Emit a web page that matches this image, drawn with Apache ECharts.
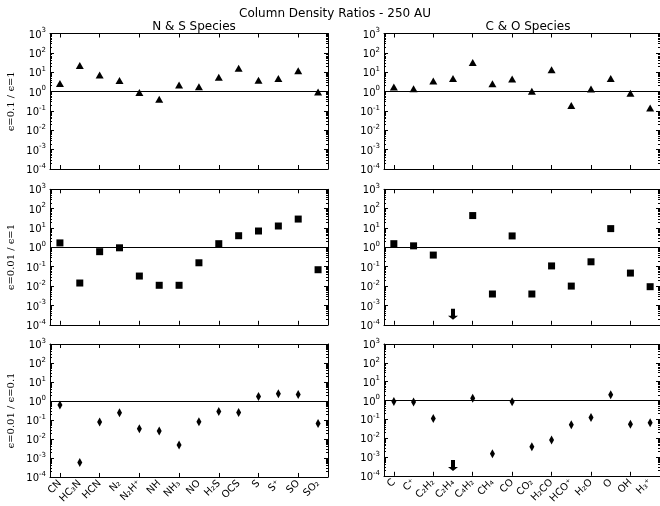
<!DOCTYPE html>
<html><head><meta charset="utf-8">
<script src="https://cdn.jsdelivr.net/npm/echarts@6/dist/echarts.min.js"></script>
<style>html,body{margin:0;padding:0;background:#fff}#c{width:660px;height:506px}</style>
</head><body><div id="c"></div>
<script>
const nsSpecies = ['CN','HC₃N','HCN','N₂','N₂H⁺','NH','NH₃','NO','H₂S','OCS','S','S⁺','SO','SO₂'];
const coSpecies = ['C','C⁺','C₂H₂','C₂H₄','C₄H₂','CH₄','CO','CO₂','H₂CO','HCO⁺','H₂O','O','OH','H₃⁺'];

const nsRatio01_1   = [2.6, 22, 7.1, 3.7, 0.89, 0.40, 2.2, 1.8, 5.5, 16, 3.8, 4.8, 12, 0.95];
const nsRatio001_1  = [1.7, 0.0144, 0.6, 0.95, 0.033, 0.011, 0.011, 0.16, 1.55, 4.0, 7.0, 12.7, 29, 0.07];
const nsRatio001_01 = [0.62, 0.00057, 0.078, 0.24, 0.035, 0.026, 0.0048, 0.081, 0.28, 0.25, 1.7, 2.4, 2.2, 0.066];

const coRatio01_1   = [1.7, 1.4, 3.5, 4.7, 32, 2.5, 4.4, 1.05, 13.5, 0.19, 1.36, 4.7, 0.82, 0.14];
const coRatio001_1  = [1.55, 1.2, 0.40, null, 44, 0.0039, 3.9, 0.0039, 0.11, 0.0100, 0.18, 9.3, 0.047, 0.0093];
const coRatio001_01 = [0.89, 0.82, 0.11, null, 1.3, 0.0015, 0.85, 0.0035, 0.0080, 0.052, 0.126, 2.0, 0.054, 0.066];
// upper limits (arrows)
const coLimit001_1  = [null, null, null, 3.5e-4, null, null, null, null, null, null, null, null, null, null];
const coLimit001_01 = [null, null, null, 3.5e-4, null, null, null, null, null, null, null, null, null, null];

const yMajorTicks = [1e-4, 1e-3, 1e-2, 1e-1, 1, 10, 100, 1000];
const yNames = ['ϵ=0.1 / ϵ=1', 'ϵ=0.01 / ϵ=1', 'ϵ=0.01 / ϵ=0.1'];

const yMinorTicks = [];
for (let k = -4; k < 3; k++) for (let m = 2; m <= 9; m++) yMinorTicks.push(m * Math.pow(10, k));

const rowTops = [33.5, 189.3, 344];
const rowH = 135.5;
const colLefts = [50, 384];
const colW = 278;

const panels = [
  {row:0,col:0,cats:nsSpecies,vals:nsRatio01_1,sym:'triangle',size:[8,7]},
  {row:1,col:0,cats:nsSpecies,vals:nsRatio001_1,sym:'rect',size:[7,7]},
  {row:2,col:0,cats:nsSpecies,vals:nsRatio001_01,sym:'diamond',size:[5,9]},
  {row:0,col:1,cats:coSpecies,vals:coRatio01_1,sym:'triangle',size:[8,7]},
  {row:1,col:1,cats:coSpecies,vals:coRatio001_1,sym:'rect',size:[7,7],lim:coLimit001_1},
  {row:2,col:1,cats:coSpecies,vals:coRatio001_01,sym:'diamond',size:[5,9],lim:coLimit001_01},
];

const arrowPath = 'path://M-2,0 L2,0 L2,7 L5,7 L0,11 L-5,7 L-2,7 Z';

const grid = [], xAxis = [], yAxis = [], series = [];
const black = '#000';
const fam = 'DejaVu Sans';

panels.forEach((p, i) => {
  grid.push({left: colLefts[p.col], top: rowTops[p.row], width: colW, height: rowH});
  const xi = xAxis.length;
  const tickInt = (idx) => idx % 2 === 0;
  xAxis.push({
    type: 'category', gridIndex: i, data: p.cats, position: 'bottom', boundaryGap: true,
    axisLine: {show: true, lineStyle: {color: black, width: 1}},
    axisTick: {show: true, inside: true, length: 4, alignWithLabel: true, interval: tickInt, lineStyle: {color: black}},
    axisLabel: {show: p.row === 2, interval: 0, rotate: 45, fontSize: 10, fontFamily: fam, color: black, margin: 5},
    splitLine: {show: false}
  });
  xAxis.push({
    type: 'category', gridIndex: i, data: p.cats, position: 'top', boundaryGap: true,
    axisLine: {show: true, lineStyle: {color: black, width: 1}},
    axisTick: {show: true, inside: true, length: 4, alignWithLabel: true, interval: tickInt, lineStyle: {color: black}},
    axisLabel: {show: false}, splitLine: {show: false}
  });
  const yi = yAxis.length;
  const base = {type: 'log', logBase: 10, gridIndex: i, min: 1e-4, max: 1e3, splitLine: {show: false}};
  yAxis.push(Object.assign({}, base, {
    position: 'left',
    name: p.col === 0 ? yNames[p.row] : '',
    nameLocation: 'middle', nameGap: 34, nameRotate: 90,
    nameTextStyle: {fontFamily: 'DejaVu Serif', fontSize: 10, color: black},
    axisLine: {show: true, lineStyle: {color: black, width: 1}},
    axisTick: {show: true, inside: true, length: 4, customValues: yMajorTicks, lineStyle: {color: black}},
    axisLabel: {
      show: true, customValues: yMajorTicks, margin: 4,
      formatter: v => '{b|10}{s|' + Math.round(Math.log10(v)) + '}',
      rich: {
        b: {fontSize: 10, fontFamily: fam, color: black, lineHeight: 13, verticalAlign: 'bottom'},
        s: {fontSize: 7, fontFamily: fam, color: black, verticalAlign: 'top', lineHeight: 8}
      }
    }
  }));
  yAxis.push(Object.assign({}, base, {
    position: 'left', axisLine: {show: false},
    axisTick: {show: true, inside: true, length: 2, customValues: yMinorTicks, lineStyle: {color: black}},
    axisLabel: {show: false}
  }));
  yAxis.push(Object.assign({}, base, {
    position: 'right', axisLine: {show: true, lineStyle: {color: black, width: 1}},
    axisTick: {show: true, inside: true, length: 4, customValues: yMajorTicks, lineStyle: {color: black}},
    axisLabel: {show: false}
  }));
  yAxis.push(Object.assign({}, base, {
    position: 'right', axisLine: {show: false},
    axisTick: {show: true, inside: true, length: 2, customValues: yMinorTicks, lineStyle: {color: black}},
    axisLabel: {show: false}
  }));
  series.push({
    type: 'scatter', xAxisIndex: xi, yAxisIndex: yi,
    data: p.vals.map(v => v == null ? '-' : v),
    symbol: p.sym, symbolSize: p.size,
    itemStyle: {color: black, opacity: 1},
    markLine: {
      silent: true, symbol: 'none', label: {show: false},
      lineStyle: {color: black, width: 1, type: 'solid'},
      data: [{yAxis: 1}]
    }
  });
  if (p.lim) {
    series.push({
      type: 'scatter', xAxisIndex: xi, yAxisIndex: yi,
      data: p.lim.map(v => v == null ? '-' : v),
      symbol: arrowPath, symbolSize: [10, 11],
      itemStyle: {color: black, opacity: 1}
    });
  }
});

const chart = echarts.init(document.getElementById('c'), null, {renderer: 'canvas'});
chart.setOption({
  animation: false,
  backgroundColor: '#fff',
  title: [
    {text: 'Column Density Ratios - 250 AU', left: 330, textAlign: 'center', top: 3,
     textStyle: {fontFamily: fam, fontSize: 12, fontWeight: 'normal', color: black}},
    {text: 'N & S Species', left: 189, textAlign: 'center', top: 16,
     textStyle: {fontFamily: fam, fontSize: 12, fontWeight: 'normal', color: black}},
    {text: 'C & O Species', left: 523, textAlign: 'center', top: 16,
     textStyle: {fontFamily: fam, fontSize: 12, fontWeight: 'normal', color: black}}
  ],
  grid, xAxis, yAxis, series
});
</script></body></html>
